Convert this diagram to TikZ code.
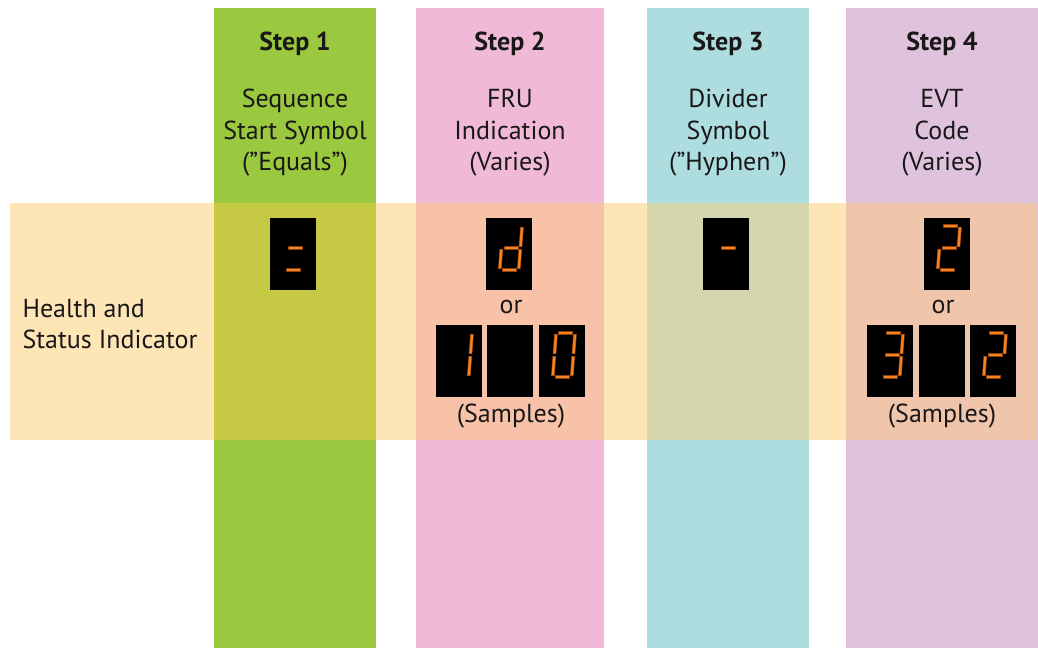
\documentclass[tikz,border=0pt]{standalone}
\usepackage{fontspec}
\setmainfont{PT Sans}
\definecolor{cgreen}{HTML}{9AC83F}
\definecolor{cpink}{HTML}{F0BAD6}
\definecolor{cteal}{HTML}{AEDDDF}
\definecolor{cpurple}{HTML}{DFC3DD}
\definecolor{cband}{HTML}{FDE5B5}
\definecolor{cgreenb}{HTML}{C5C944}
\definecolor{cpinkb}{HTML}{F7C2A8}
\definecolor{ctealb}{HTML}{D4D6AD}
\definecolor{cpurpleb}{HTML}{EFC6AC}
\definecolor{segor}{HTML}{F7821E}
\definecolor{segdk}{HTML}{8A4010}
\definecolor{ink}{HTML}{1A1718}
\def\digEq{18/30/33/30, 16/52/31/52}
\def\digHy{18/30/33/30}
\def\digd{36/9/34.5/29, 34.3/31/32.8/51, 16/52/31/52, 15.3/31/13.8/51, 18/30/33/30}
\def\digone{36/9/34.5/29, 34.3/31/32.8/51}
\def\digzero{19/8/34/8, 36/9/34.5/29, 34.3/31/32.8/51, 16/52/31/52, 15.3/31/13.8/51, 17/9/15.5/29}
\def\digtwo{19/8/34/8, 36/9/34.5/29, 18/30/33/30, 15.3/31/13.8/51, 16/52/31/52}
\def\digthree{19/8/34/8, 36/9/34.5/29, 18/30/33/30, 34.3/31/32.8/51, 16/52/31/52}
\newcommand\showsegs[2]{%
  \begin{scope}[shift={(#1.north west)}]
    \foreach \xa/\ya/\xb/\yb in #2 {%
      \draw[segedge] (\xa,\ya) -- (\xb,\yb);
      \draw[segfill] (\xa,\ya) -- (\xb,\yb);}
  \end{scope}}
\tikzset{
  display/.style={fill=black, draw=none, minimum width=46pt, minimum height=72pt, inner sep=0pt, anchor=north west},
  segedge/.style={line width=3.6pt, segdk},
  segfill/.style={line width=2.4pt, segor, shorten <=0.6pt, shorten >=0.6pt},
  head/.style={font=\fontsize{26}{30}\selectfont\bfseries, text=ink},
  body/.style={font=\fontsize{26}{31.5}\selectfont, text=ink, align=center},
}
\begin{document}
\begin{tikzpicture}[x=1pt,y=-1pt]
\useasboundingbox (0,0) rectangle (1038,648);
% columns
\fill[cgreen] (214,8) rectangle (376,648);
\fill[cpink] (416,8) rectangle (604,648);
\fill[cteal] (647,8) rectangle (809,648);
\fill[cpurple] (846,8) rectangle (1038,648);
% band
\fill[cband] (10,203) rectangle (1037,440);
\fill[cgreenb] (214,203) rectangle (376,440);
\fill[cpinkb] (416,203) rectangle (604,440);
\fill[ctealb] (647,203) rectangle (809,440);
\fill[cpurpleb] (846,203) rectangle (1037,440);
% headings
\node[head] (h1) at (295,44) {Step 1};
\node[head] (h2) at (510,44) {Step 2};
\node[head] (h3) at (728,44) {Step 3};
\node[head] (h4) at (942,44) {Step 4};
\node[body] (t1) at (295,133) {Sequence\\Start Symbol\\(”Equals”)};
\node[body] (t2) at (510,133) {FRU\\Indication\\(Varies)};
\node[body] (t3) at (728,133) {Divider\\Symbol\\(”Hyphen”)};
\node[body] (t4) at (942,133) {EVT\\Code\\(Varies)};
\node[body, align=left, anchor=west] (lbl) at (19,324) {Health and\\Status Indicator};
% displays
\node[display] (d1) at (270,218) {};
\node[display] (d2) at (486,218) {};
\node[display] (d2a) at (436,325) {};
\node[display] (d2b) at (487,325) {};
\node[display] (d2c) at (539,325) {};
\node[display] (d3) at (703,218) {};
\node[display] (d4) at (924,218) {};
\node[display] (d4a) at (867,325) {};
\node[display] (d4b) at (919,325) {};
\node[display] (d4c) at (970,325) {};
\showsegs{d1}{\digEq}
\showsegs{d2}{\digd}
\showsegs{d2a}{\digone}
\showsegs{d2c}{\digzero}
\showsegs{d3}{\digHy}
\showsegs{d4}{\digtwo}
\showsegs{d4a}{\digthree}
\showsegs{d4c}{\digtwo}
\node[body] (or2) at (511,307) {or};
\node[body] (s2) at (511,416) {(Samples)};
\node[body] (or4) at (943,307) {or};
\node[body] (s4) at (942,416) {(Samples)};
\end{tikzpicture}
\end{document}
